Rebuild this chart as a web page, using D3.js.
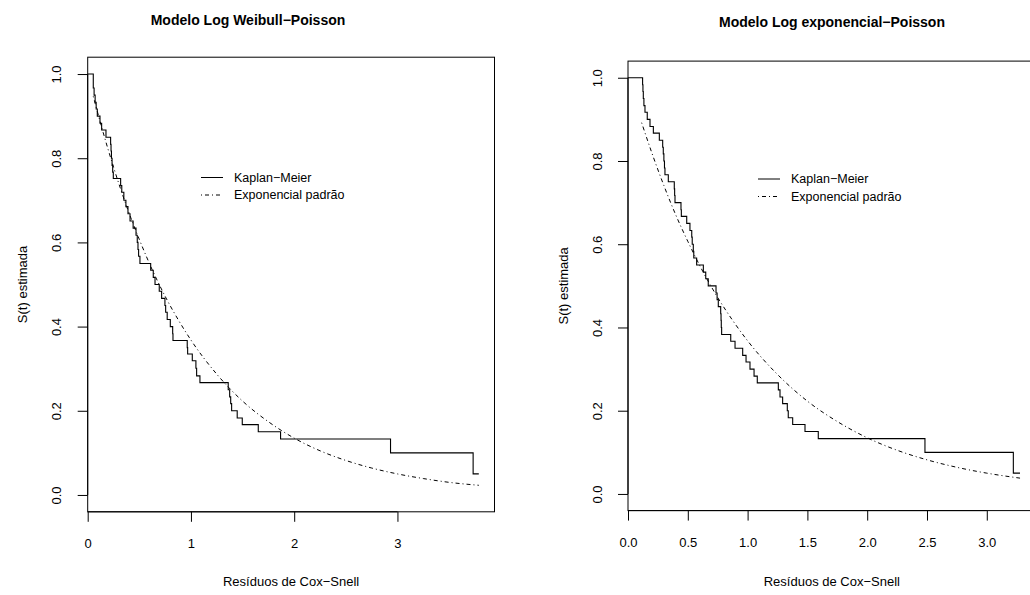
<!DOCTYPE html>
<html>
<head>
<meta charset="utf-8">
<script src="https://cdn.jsdelivr.net/npm/d3@7"></script>
<style>
  html, body { margin: 0; padding: 0; background: #fff; }
  svg { display: block; font-family: "Liberation Sans", Arial, Helvetica, sans-serif; }
</style>
</head>
<body>
<svg id="chart" width="1030" height="595"></svg>
<script>
// Kaplan–Meier estimate of the Cox–Snell residuals, Log Weibull–Poisson model
const weibullTimes = [0, 0.054, 0.062, 0.072, 0.082, 0.093, 0.119, 0.135, 0.177, 0.222,
  0.226, 0.230, 0.236, 0.242, 0.248, 0.319, 0.33, 0.35, 0.37, 0.39,
  0.41, 0.44, 0.468, 0.48, 0.487, 0.493, 0.506, 0.61, 0.635, 0.652,
  0.693, 0.716, 0.748, 0.755, 0.77, 0.80, 0.823, 0.826, 0.964, 0.968,
  1.013, 1.048, 1.055, 1.087, 1.361, 1.375, 1.385, 1.394, 1.448, 1.497,
  1.652, 1.868, 2.933, 3.733, 3.788];
const weibullSurv = [1, 0.967, 0.95, 0.933, 0.917, 0.90, 0.883, 0.867, 0.85, 0.833,
  0.817, 0.80, 0.783, 0.767, 0.752, 0.735, 0.719, 0.70, 0.685, 0.668,
  0.651, 0.634, 0.617, 0.60, 0.583, 0.567, 0.55, 0.534, 0.517, 0.50,
  0.484, 0.467, 0.45, 0.434, 0.417, 0.40, 0.383, 0.367, 0.35, 0.335,
  0.319, 0.301, 0.283, 0.267, 0.25, 0.233, 0.217, 0.20, 0.183, 0.167,
  0.15, 0.133, 0.10, 0.05, 0.05];

// Standard exponential survival evaluated at the residuals (Weibull model)
const weibullExpR = [0.054, 0.15, 0.25, 0.375, 0.5, 0.625, 0.75, 0.875, 1.0, 1.25,
  1.5, 1.75, 2.0, 2.25, 2.5, 2.75, 3.0, 3.25, 3.5, 3.788];
const weibullExpS = [0.947, 0.861, 0.779, 0.687, 0.607, 0.535, 0.472, 0.417, 0.368, 0.287,
  0.223, 0.174, 0.135, 0.105, 0.082, 0.064, 0.050, 0.039, 0.030, 0.023];

// Kaplan–Meier estimate of the Cox–Snell residuals, Log exponencial–Poisson model
const expoTimes = [0, 0.122, 0.125, 0.128, 0.133, 0.142, 0.161, 0.184, 0.212, 0.262,
  0.29, 0.295, 0.30, 0.305, 0.309, 0.337, 0.387, 0.39, 0.393, 0.443,
  0.446, 0.491, 0.518, 0.533, 0.537, 0.546, 0.55, 0.574, 0.63, 0.65,
  0.671, 0.736, 0.745, 0.755, 0.775, 0.778, 0.78, 0.783, 0.859, 0.895,
  0.959, 0.987, 1.02, 1.054, 1.081, 1.257, 1.271, 1.293, 1.332, 1.34,
  1.377, 1.48, 1.591, 2.483, 3.222, 3.278];
const expoSurv = [1, 0.983, 0.967, 0.95, 0.933, 0.917, 0.90, 0.883, 0.867, 0.85,
  0.833, 0.817, 0.80, 0.783, 0.767, 0.75, 0.733, 0.717, 0.70, 0.683,
  0.667, 0.65, 0.633, 0.617, 0.60, 0.583, 0.567, 0.55, 0.533, 0.517,
  0.50, 0.483, 0.467, 0.45, 0.433, 0.417, 0.40, 0.383, 0.367, 0.35,
  0.333, 0.317, 0.30, 0.283, 0.267, 0.25, 0.233, 0.217, 0.20, 0.183,
  0.167, 0.15, 0.133, 0.10, 0.05, 0.05];

// Standard exponential survival evaluated at the residuals (exponential model)
const expoExpR = [0.114, 0.2, 0.3, 0.4, 0.5, 0.625, 0.75, 0.875, 1.0, 1.25,
  1.5, 1.75, 2.0, 2.25, 2.5, 2.75, 3.0, 3.278];
const expoExpS = [0.892, 0.819, 0.741, 0.670, 0.607, 0.535, 0.472, 0.417, 0.368, 0.287,
  0.223, 0.174, 0.135, 0.105, 0.082, 0.064, 0.050, 0.038];

// Tick labels
const yTicks = [0, 0.2, 0.4, 0.6, 0.8, 1.0];
const weibullXTicks = [0, 1, 2, 3];
const expoXTicks = [0, 0.5, 1.0, 1.5, 2.0, 2.5, 3.0];

const titles = ["Modelo Log Weibull\u2212Poisson", "Modelo Log exponencial\u2212Poisson"];
const xLabel = "Res\u00edduos de Cox\u2212Snell";
const yLabel = "S(t) estimada";
const legendLabels = ["Kaplan\u2212Meier", "Exponencial padr\u00e3o"];

const svg = d3.select("#chart");

function panel(opt) {
  const x = d3.scaleLinear().domain([0, opt.xMax]).range([opt.left, opt.right]);
  const y = d3.scaleLinear().domain([-0.04, 1.04]).range([opt.bottom, opt.top]);
  const g = svg.append("g");

  // plot frame
  g.append("rect")
    .attr("x", opt.left).attr("y", opt.top)
    .attr("width", opt.right - opt.left).attr("height", opt.bottom - opt.top)
    .attr("fill", "none").attr("stroke", "#000").attr("stroke-width", 1);

  // x axis
  const xAxis = d3.axisBottom(x).tickValues(opt.xTicks).tickSize(10).tickPadding(17)
    .tickFormat(opt.xFormat);
  const gx = g.append("g").attr("transform", `translate(0,${opt.bottom})`).call(xAxis);
  gx.select(".domain").attr("d", `M${x(opt.xTicks[0])},0H${x(opt.xTicks[opt.xTicks.length - 1])}`);

  // y axis, labels parallel to the axis
  const yAxis = d3.axisLeft(y).tickValues(yTicks).tickSize(10).tickFormat(d3.format(".1f"));
  const gy = g.append("g").attr("transform", `translate(${opt.left},0)`).call(yAxis);
  gy.select(".domain").attr("d", `M0,${y(0)}V${y(1)}`);
  gy.selectAll(".tick text")
    .attr("x", 0).attr("dy", 0)
    .attr("transform", "translate(-31,0) rotate(-90)")
    .attr("text-anchor", "middle").attr("dominant-baseline", "central");

  g.selectAll(".domain, .tick line").attr("stroke", "#000").attr("stroke-width", 1);
  g.selectAll(".tick text").attr("font-size", 13).attr("fill", "#000")
    .attr("font-family", "Liberation Sans, Arial, sans-serif");

  // Kaplan–Meier step curve
  const km = opt.kmT.map((t, i) => [t, opt.kmS[i]]);
  g.append("path")
    .attr("d", d3.line().x(d => x(d[0])).y(d => y(d[1])).curve(d3.curveStepAfter)(km))
    .attr("fill", "none").attr("stroke", "#000").attr("stroke-width", 1.1);

  // standard exponential curve, dot-dash
  const ex = opt.exR.map((r, i) => [r, opt.exS[i]]);
  g.append("path")
    .attr("d", d3.line().x(d => x(d[0])).y(d => y(d[1])).curve(d3.curveMonotoneX)(ex))
    .attr("fill", "none").attr("stroke", "#000").attr("stroke-width", 1)
    .attr("stroke-dasharray", "1,3,4,3");

  // titles and axis labels
  g.append("text").attr("x", opt.titleX).attr("y", opt.titleY)
    .attr("text-anchor", "middle").attr("font-weight", "bold").attr("font-size", 14)
    .text(opt.title);
  g.append("text").attr("x", (opt.left + opt.right) / 2).attr("y", 586)
    .attr("text-anchor", "middle").attr("font-size", 13).text(xLabel);
  g.append("text")
    .attr("transform", `translate(${opt.left - 65},${(opt.top + opt.bottom) / 2}) rotate(-90)`)
    .attr("text-anchor", "middle").attr("dominant-baseline", "central")
    .attr("font-size", 13).text(yLabel);

  // legend
  const lg = g.append("g").attr("transform", `translate(${opt.legX},${opt.legY})`);
  legendLabels.forEach((lab, i) => {
    const yy = i * 17.5;
    lg.append("line").attr("x1", 0).attr("x2", 22).attr("y1", yy).attr("y2", yy)
      .attr("stroke", "#000").attr("stroke-width", 1)
      .attr("stroke-dasharray", i === 1 ? "1,3,4,3" : null);
    lg.append("text").attr("x", 33).attr("y", yy).attr("dominant-baseline", "central")
      .attr("font-size", 12.5).text(lab);
  });
}

panel({
  left: 87.7, right: 494.5, top: 57.2, bottom: 511.8, xMax: 3.94,
  xTicks: weibullXTicks, xFormat: d3.format("d"),
  kmT: weibullTimes, kmS: weibullSurv, exR: weibullExpR, exS: weibullExpS,
  title: titles[0], titleX: 248, titleY: 25, legX: 201, legY: 177.5
});

panel({
  left: 628, right: 1035.7, top: 61.1, bottom: 510.6, xMax: 3.409,
  xTicks: expoXTicks, xFormat: d3.format(".1f"),
  kmT: expoTimes, kmS: expoSurv, exR: expoExpR, exS: expoExpS,
  title: titles[1], titleX: 832, titleY: 27, legX: 758, legY: 179
});
</script>
</body>
</html>
